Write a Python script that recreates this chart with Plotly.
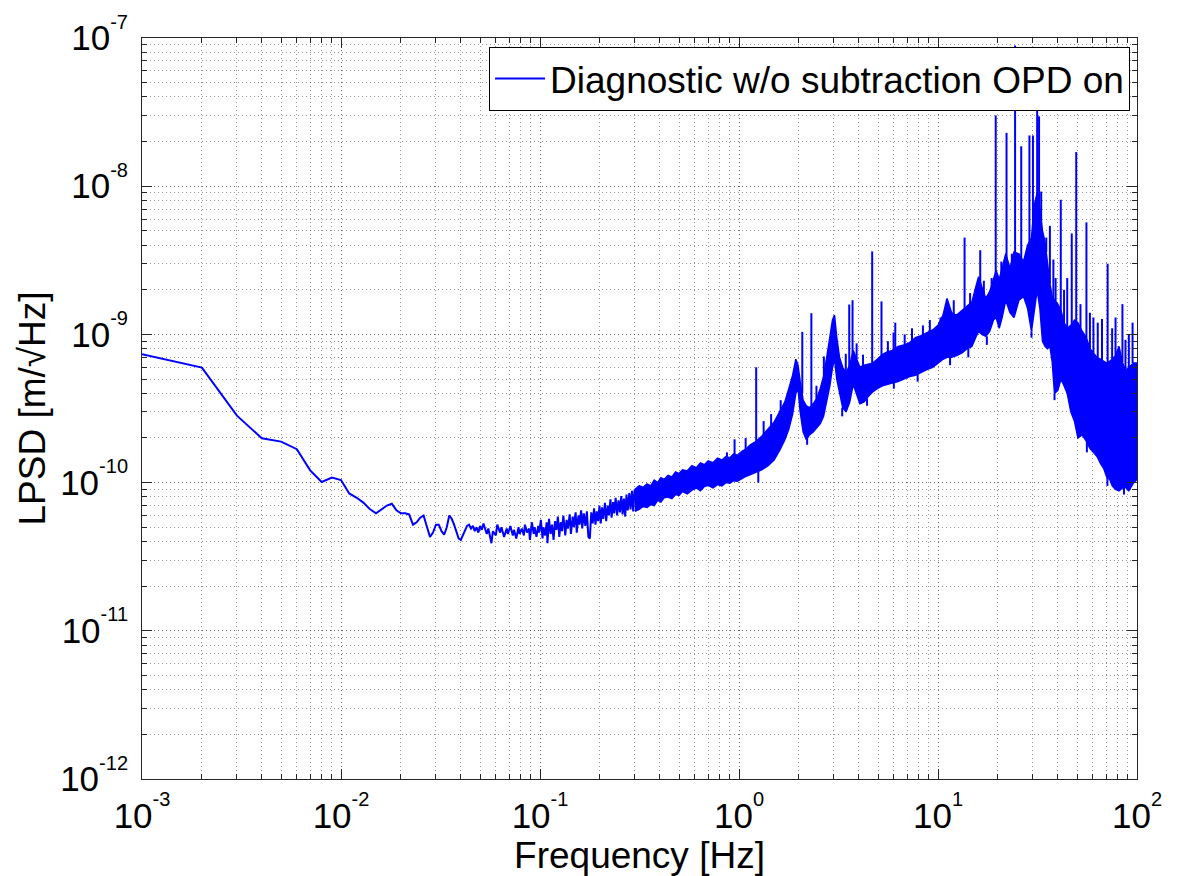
import plotly.graph_objects as go

# Low-frequency part of the spectrum (resolved bins up to 0.3 Hz)
lf_freq = [
    0.001, 0.002, 0.003, 0.004, 0.005, 0.006, 0.007, 0.008, 0.009, 0.010,
    0.011, 0.012, 0.013, 0.014, 0.015, 0.016, 0.017, 0.018, 0.019, 0.020,
    0.021, 0.022, 0.023, 0.024, 0.025, 0.026, 0.027, 0.028, 0.029, 0.030,
    0.031, 0.032, 0.033, 0.034, 0.035, 0.036, 0.037, 0.038, 0.039, 0.040,
    0.041, 0.042, 0.043, 0.044, 0.045, 0.046, 0.047, 0.048, 0.049, 0.050,
    0.051, 0.052, 0.054, 0.055, 0.057, 0.058, 0.060, 0.061, 0.063, 0.064,
    0.066, 0.068, 0.069, 0.071, 0.073, 0.074, 0.076, 0.078, 0.079, 0.081,
    0.083, 0.084, 0.086, 0.088, 0.089, 0.091, 0.093, 0.094, 0.096, 0.098, 0.099,
    0.101, 0.103, 0.104, 0.106, 0.108, 0.109, 0.111, 0.113, 0.115, 0.117,
    0.119, 0.121, 0.123, 0.125, 0.127, 0.129, 0.131, 0.134, 0.136, 0.138,
    0.141, 0.143, 0.146, 0.148, 0.151, 0.153, 0.156, 0.158, 0.161, 0.163,
    0.166, 0.169, 0.172, 0.175, 0.178, 0.181, 0.184, 0.187, 0.190, 0.193,
    0.196, 0.199,
    0.202, 0.205, 0.208, 0.212, 0.215, 0.219, 0.222, 0.226, 0.229, 0.233,
    0.236, 0.240, 0.244, 0.248, 0.252, 0.256, 0.260, 0.264, 0.268, 0.272,
    0.276, 0.281, 0.285, 0.290, 0.294, 0.299,
]
lf_psd = [
    7.35e-10, 5.97e-10, 2.83e-10, 1.99e-10, 1.89e-10, 1.68e-10, 1.21e-10, 1.01e-10, 1.08e-10, 1.04e-10,
    8.45e-11, 7.9e-11, 7.3e-11, 6.6e-11, 6.2e-11, 6.6e-11, 7.0e-11, 7.2e-11, 6.5e-11, 6.2e-11,
    6.2e-11, 6.1e-11, 5.2e-11, 5.4e-11, 5.8e-11, 6.0e-11, 5.0e-11, 4.3e-11, 4.6e-11, 5.2e-11,
    5.2e-11, 4.7e-11, 4.45e-11, 5.0e-11, 6.0e-11, 5.7e-11, 5.2e-11, 4.6e-11, 4.2e-11, 4.1e-11,
    4.4e-11, 4.8e-11, 5.1e-11, 5.2e-11, 4.9e-11, 5.1e-11, 4.7e-11, 5.0e-11, 4.6e-11, 5.1e-11,
    4.8e-11, 5.3e-11, 4.5e-11, 4.9e-11, 3.9e-11, 4.7e-11, 4.4e-11, 5.2e-11, 4.6e-11, 5.0e-11,
    4.3e-11, 4.9e-11, 4.5e-11, 5.1e-11, 4.4e-11, 4.8e-11, 4.2e-11, 5.0e-11, 4.5e-11, 4.9e-11,
    4.4e-11, 5.2e-11, 4.6e-11, 4.9e-11, 4.1e-11, 5.4e-11, 4.5e-11, 5.0e-11, 4.3e-11, 5.1e-11, 4.6e-11,
    5.6e-11, 4.2e-11, 5.0e-11, 4.4e-11, 5.4e-11, 3.9e-11, 5.7e-11, 4.5e-11, 5.2e-11, 4.1e-11,
    5.5e-11, 4.8e-11, 5.9e-11, 4.3e-11, 5.4e-11, 4.7e-11, 6.0e-11, 4.4e-11, 5.6e-11, 4.9e-11,
    6.1e-11, 4.5e-11, 5.9e-11, 5.0e-11, 6.3e-11, 4.6e-11, 6.0e-11, 5.2e-11, 6.5e-11, 4.9e-11,
    6.2e-11, 5.1e-11, 6.4e-11, 4.3e-11, 4.2e-11, 6.3e-11, 5.3e-11, 6.7e-11, 5.2e-11, 6.4e-11,
    5.5e-11, 7.0e-11,
    5.3e-11, 6.8e-11, 5.7e-11, 7.3e-11, 5.5e-11, 7.0e-11, 6.0e-11, 7.7e-11, 5.8e-11, 7.4e-11,
    6.2e-11, 7.9e-11, 6.0e-11, 7.6e-11, 6.3e-11, 8.1e-11, 6.1e-11, 7.8e-11, 5.9e-11, 8.3e-11,
    6.5e-11, 8.5e-11, 6.6e-11, 8.8e-11, 6.4e-11, 9.0e-11,
]

# Dense noise band above 0.3 Hz: lower and upper envelope
band_freq = [
    0.300, 0.315, 0.330, 0.345, 0.360, 0.375, 0.390, 0.405, 0.420, 0.440,
    0.460, 0.480, 0.500, 0.520, 0.550, 0.580, 0.610, 0.640, 0.670, 0.700,
    0.740, 0.780, 0.820, 0.860, 0.900, 0.940, 0.980, 1.03, 1.08, 1.14,
    1.22, 1.30, 1.40, 1.50, 1.60, 1.70, 1.78, 1.86, 1.93, 1.98,
    2.03, 2.10, 2.18, 2.26, 2.36, 2.46, 2.56, 2.66, 2.76, 2.86,
    2.95, 3.02, 3.10, 3.20, 3.32, 3.45, 3.60, 3.75, 3.90, 4.05,
    4.25, 4.45, 4.70, 4.95, 5.25, 5.55, 5.90, 6.30, 6.75, 7.20,
    7.70, 8.20, 8.80, 9.40, 10.0, 10.6, 11.1, 11.7, 12.4, 13.2,
    14.0, 14.8, 15.5, 16.0, 16.6, 17.4, 18.2, 19.0, 19.6, 20.3,
    21.0, 21.9, 23.0, 24.1, 25.5, 26.9, 28.2, 29.5, 30.5, 31.5,
    32.5, 33.5, 34.5, 35.5, 36.5, 37.5, 38.5, 40.0, 41.5, 43.0,
    44.6, 46.5, 48.5, 50.5, 53.0, 55.7, 58.0, 60.4, 63.0, 65.5,
    68.0, 70.3, 73.0, 75.1, 78.0, 81.2, 84.5, 87.5, 91.0, 96.2, 100.0,
]
band_lo = [
    6.4e-11, 6.6e-11, 6.9e-11, 6.8e-11, 7.1e-11, 7.0e-11, 7.6e-11, 7.4e-11, 7.9e-11, 8.0e-11,
    7.8e-11, 8.3e-11, 8.2e-11, 8.7e-11, 8.4e-11, 8.9e-11, 9.2e-11, 8.8e-11, 9.4e-11, 9.6e-11,
    9.2e-11, 9.7e-11, 9.5e-11, 1.00e-10, 9.9e-11, 1.03e-10, 1.02e-10, 1.06e-10, 1.10e-10, 1.14e-10,
    1.18e-10, 1.22e-10, 1.30e-10, 1.42e-10, 1.65e-10, 1.95e-10, 2.30e-10, 2.90e-10, 4.00e-10, 4.30e-10,
    3.00e-10, 2.20e-10, 1.95e-10, 2.10e-10, 2.20e-10, 2.35e-10, 2.50e-10, 2.80e-10, 3.60e-10, 4.50e-10,
    6.00e-10, 6.80e-10, 5.00e-10, 4.00e-10, 3.20e-10, 3.00e-10, 3.50e-10, 4.60e-10, 4.00e-10, 3.40e-10,
    3.50e-10, 3.80e-10, 4.10e-10, 4.30e-10, 4.50e-10, 4.60e-10, 4.70e-10, 4.80e-10, 5.00e-10, 5.20e-10,
    5.30e-10, 5.50e-10, 5.80e-10, 6.00e-10, 6.40e-10, 6.80e-10, 7.00e-10, 7.00e-10, 7.20e-10, 7.50e-10,
    8.00e-10, 8.30e-10, 9.60e-10, 1.05e-9, 1.00e-9, 9.70e-10, 1.05e-9, 1.25e-9, 1.30e-9, 1.10e-9,
    1.30e-9, 1.70e-9, 1.40e-9, 1.30e-9, 1.70e-9, 1.80e-9, 1.50e-9, 1.05e-9, 1.40e-9, 2.00e-9,
    1.50e-9, 9.00e-10, 8.30e-10, 8.00e-10, 8.30e-10, 6.50e-10, 4.00e-10, 4.20e-10, 5.00e-10, 4.50e-10,
    4.00e-10, 3.00e-10, 2.60e-10, 2.00e-10, 2.10e-10, 1.90e-10, 1.70e-10, 1.60e-10, 1.50e-10, 1.35e-10,
    1.25e-10, 1.10e-10, 1.05e-10, 9.50e-11, 9.00e-11, 8.80e-11, 9.20e-11, 9.30e-11, 8.80e-11, 1.00e-10, 1.05e-10,
]
band_hi = [
    9.0e-11, 9.5e-11, 9.3e-11, 9.8e-11, 9.5e-11, 1.04e-10, 1.00e-10, 1.08e-10, 1.05e-10, 1.12e-10,
    1.09e-10, 1.18e-10, 1.15e-10, 1.22e-10, 1.20e-10, 1.30e-10, 1.26e-10, 1.36e-10, 1.32e-10, 1.40e-10,
    1.36e-10, 1.46e-10, 1.42e-10, 1.50e-10, 1.47e-10, 1.56e-10, 1.53e-10, 1.62e-10, 1.68e-10, 1.80e-10,
    1.90e-10, 2.05e-10, 2.30e-10, 2.55e-10, 3.00e-10, 3.50e-10, 4.30e-10, 5.30e-10, 6.80e-10, 6.20e-10,
    4.80e-10, 3.60e-10, 3.30e-10, 3.20e-10, 3.40e-10, 3.70e-10, 4.30e-10, 5.20e-10, 7.00e-10, 9.50e-10,
    1.25e-9, 1.35e-9, 9.50e-10, 7.00e-10, 6.00e-10, 5.50e-10, 6.20e-10, 7.80e-10, 6.80e-10, 6.00e-10,
    6.20e-10, 6.30e-10, 6.40e-10, 6.80e-10, 7.30e-10, 7.60e-10, 7.80e-10, 8.30e-10, 8.50e-10, 8.80e-10,
    9.50e-10, 9.80e-10, 1.02e-9, 1.07e-9, 1.15e-9, 1.35e-9, 1.75e-9, 1.40e-9, 1.35e-9, 1.45e-9,
    1.55e-9, 1.65e-9, 2.10e-9, 2.45e-9, 2.10e-9, 1.75e-9, 1.95e-9, 2.40e-9, 2.70e-9, 2.35e-9,
    2.80e-9, 3.50e-9, 2.80e-9, 3.60e-9, 3.50e-9, 3.10e-9, 4.00e-9, 4.50e-9, 7.50e-9, 9.00e-9,
    7.00e-9, 5.00e-9, 4.20e-9, 3.00e-9, 2.20e-9, 1.80e-9, 1.70e-9, 1.60e-9, 1.45e-9, 1.20e-9,
    1.10e-9, 1.15e-9, 1.25e-9, 1.20e-9, 1.05e-9, 9.50e-10, 8.00e-10, 7.50e-10, 7.00e-10, 6.80e-10,
    6.60e-10, 6.40e-10, 6.60e-10, 6.80e-10, 7.20e-10, 8.30e-10, 6.50e-10, 5.70e-10, 6.00e-10, 6.40e-10, 6.40e-10,
]

# Narrow spectral lines and single-bin excursions at the band edges
line_freq = [
    0.87, 0.95, 1.22, 1.33, 2.08, 2.31, 2.67, 3.44, 3.58, 3.72,
    4.67, 5.20, 5.98, 6.10, 13.6, 16.3, 19.5, 22.1, 24.4, 26.2,
    28.8, 30.0, 31.5, 32.2, 33.0, 36.5, 38.0, 41.4, 44.6, 47.0,
    49.5, 55.7, 60.4, 66.7, 71.2, 84.5, 87.5,
    1.08, 1.45, 1.62, 2.45, 3.90, 4.20, 5.60, 6.80, 7.40, 8.40,
    9.10, 10.3, 12.0, 14.5, 17.0, 18.6, 20.8, 23.5, 35.0, 39.0,
    43.0, 52.0, 58.0, 63.5, 75.0, 78.0, 91.0, 95.0,
    1.25, 2.20, 3.30, 4.40, 6.00, 7.90, 11.5, 14.2, 17.6, 29.5,
    38.5, 56.0, 71.0, 86.0,
]
line_base = [
    1.4e-10, 1.4e-10, 1.7e-10, 1.9e-10, 4.0e-10, 3.0e-10, 4.5e-10, 5.2e-10, 5.5e-10, 6.5e-10,
    6.0e-10, 6.8e-10, 7.5e-10, 7.5e-10, 1.4e-9, 2.2e-9, 2.5e-9, 3.0e-9, 3.0e-9, 3.2e-9,
    3.8e-9, 4.0e-9, 8.0e-9, 7.0e-9, 5.0e-9, 2.2e-9, 1.7e-9, 1.4e-9, 1.1e-9, 1.1e-9,
    1.2e-9, 9.5e-10, 7.5e-10, 6.7e-10, 6.4e-10, 6.5e-10, 5.7e-10,
    1.6e-10, 2.4e-10, 2.8e-10, 3.6e-10, 6.8e-10, 6.0e-10, 7.5e-10, 8.4e-10, 8.8e-10, 9.6e-10,
    1.04e-9, 1.2e-9, 1.35e-9, 1.6e-9, 1.8e-9, 2.1e-9, 2.6e-9, 3.0e-9, 3.6e-9, 1.6e-9,
    1.2e-9, 1.0e-9, 8.0e-10, 7.0e-10, 6.8e-10, 7.2e-10, 6.0e-10, 6.4e-10,
    1.2e-10, 2.1e-10, 3.2e-10, 3.7e-10, 4.7e-10, 5.4e-10, 7.0e-10, 8.0e-10, 9.7e-10, 1.05e-9,
    4.0e-10, 1.9e-10, 1.1e-10, 9.2e-11,
]
line_peak = [
    1.6e-10, 1.96e-10, 6.0e-10, 2.6e-10, 1.04e-9, 1.39e-9, 7.1e-10, 7.4e-10, 1.59e-9, 1.70e-9,
    3.63e-9, 1.67e-9, 1.03e-9, 1.20e-9, 4.5e-9, 3.7e-9, 3.0e-8, 2.29e-8, 8.9e-8, 1.86e-8,
    2.2e-8, 2.2e-8, 4.05e-8, 2.96e-8, 9.2e-9, 5.4e-9, 3.2e-9, 8.1e-9, 2.4e-9, 4.8e-9,
    1.7e-8, 5.7e-9, 1.3e-9, 1.27e-9, 3.0e-9, 1.6e-9, 9.2e-10,
    2.0e-10, 2.9e-10, 3.6e-10, 4.5e-10, 8.7e-10, 7.3e-10, 9.0e-10, 1.0e-9, 1.1e-9, 1.15e-9,
    1.25e-9, 1.3e-9, 1.7e-9, 1.9e-9, 2.3e-9, 2.4e-9, 3.1e-9, 3.5e-9, 4.5e-9, 2.4e-9,
    2.0e-9, 1.6e-9, 1.4e-9, 1.2e-9, 1.1e-9, 1.3e-9, 1.0e-9, 1.2e-9,
    1.0e-10, 1.8e-10, 2.8e-10, 3.3e-10, 4.3e-10, 4.8e-10, 6.2e-10, 7.0e-10, 8.5e-10, 9.5e-10,
    3.6e-10, 1.6e-10, 9.5e-11, 8.3e-11,
]

x_tickvals = [1e-3, 1e-2, 1e-1, 1e0, 1e1, 1e2]
x_exponents = ["-3", "-2", "-1", "0", "1", "2"]
y_tickvals = [1e-12, 1e-11, 1e-10, 1e-9, 1e-8, 1e-7]
y_exponents = ["-12", "-11", "-10", "-9", "-8", "-7"]


def power_label(exp):
    return ("10<sup><span style='font-size:20px;baseline-shift:7px'>%s</span></sup>"
            % exp)


BLUE = "#0000ff"
GRID = "rgba(60,60,60,0.55)"
AXIS = "#262626"

fig = go.Figure()

# noise band as a filled envelope
fig.add_trace(go.Scatter(
    x=band_freq + band_freq[::-1],
    y=band_hi + band_lo[::-1],
    mode="lines", fill="toself", fillcolor=BLUE,
    line=dict(color=BLUE, width=1.5),
    showlegend=False, hoverinfo="skip",
))

# spectral lines
spike_x, spike_y = [], []
for f, b, p in zip(line_freq, line_base, line_peak):
    spike_x += [f, f, None]
    spike_y += [b, p, None]
fig.add_trace(go.Scatter(
    x=spike_x, y=spike_y, mode="lines",
    line=dict(color=BLUE, width=2),
    showlegend=False, hoverinfo="skip",
))

# resolved low-frequency spectrum (legend entry)
fig.add_trace(go.Scatter(
    x=lf_freq, y=lf_psd, mode="lines",
    line=dict(color=BLUE, width=2),
    name="Diagnostic w/o subtraction OPD on",
))

axis_common = dict(
    type="log",
    ticks="inside", ticklen=10, tickwidth=1, tickcolor=AXIS,
    showline=True, linecolor=AXIS, linewidth=1, mirror="allticks",
    showgrid=True, gridcolor=GRID, gridwidth=1, griddash="1px,3px",
    zeroline=False,
    minor=dict(dtick="D1", ticks="inside", ticklen=5, tickcolor=AXIS,
               showgrid=True, gridcolor=GRID, gridwidth=1, griddash="1px,3px"),
    tickfont=dict(size=35, color="black"),
)

fig.update_xaxes(
    range=[-3, 2], tickvals=x_tickvals, ticktext=[power_label(e) for e in x_exponents],
    title=dict(text="Frequency [Hz]", font=dict(size=37, color="black"), standoff=0),
    ticklabelstandoff=6,
    **axis_common,
)
fig.update_yaxes(
    range=[-12, -7], tickvals=y_tickvals, ticktext=[power_label(e) for e in y_exponents],
    title=dict(text="LPSD [m/\u221aHz]", font=dict(size=37, color="black"), standoff=3),
    ticklabelstandoff=6,
    **axis_common,
)

fig.update_layout(
    width=1180, height=876,
    margin=dict(l=142, r=43, t=38, b=97, autoexpand=False),
    paper_bgcolor="white", plot_bgcolor="white",
    font=dict(family="Liberation Sans, Arial, sans-serif", size=35, color="black"),
    legend=dict(
        x=0.993, y=0.988, xanchor="right", yanchor="top",
        bgcolor="white", bordercolor="black", borderwidth=1,
        font=dict(size=37, color="black"),
        itemwidth=50, tracegroupgap=0,
    ),
)

fig.write_html("out.html")
